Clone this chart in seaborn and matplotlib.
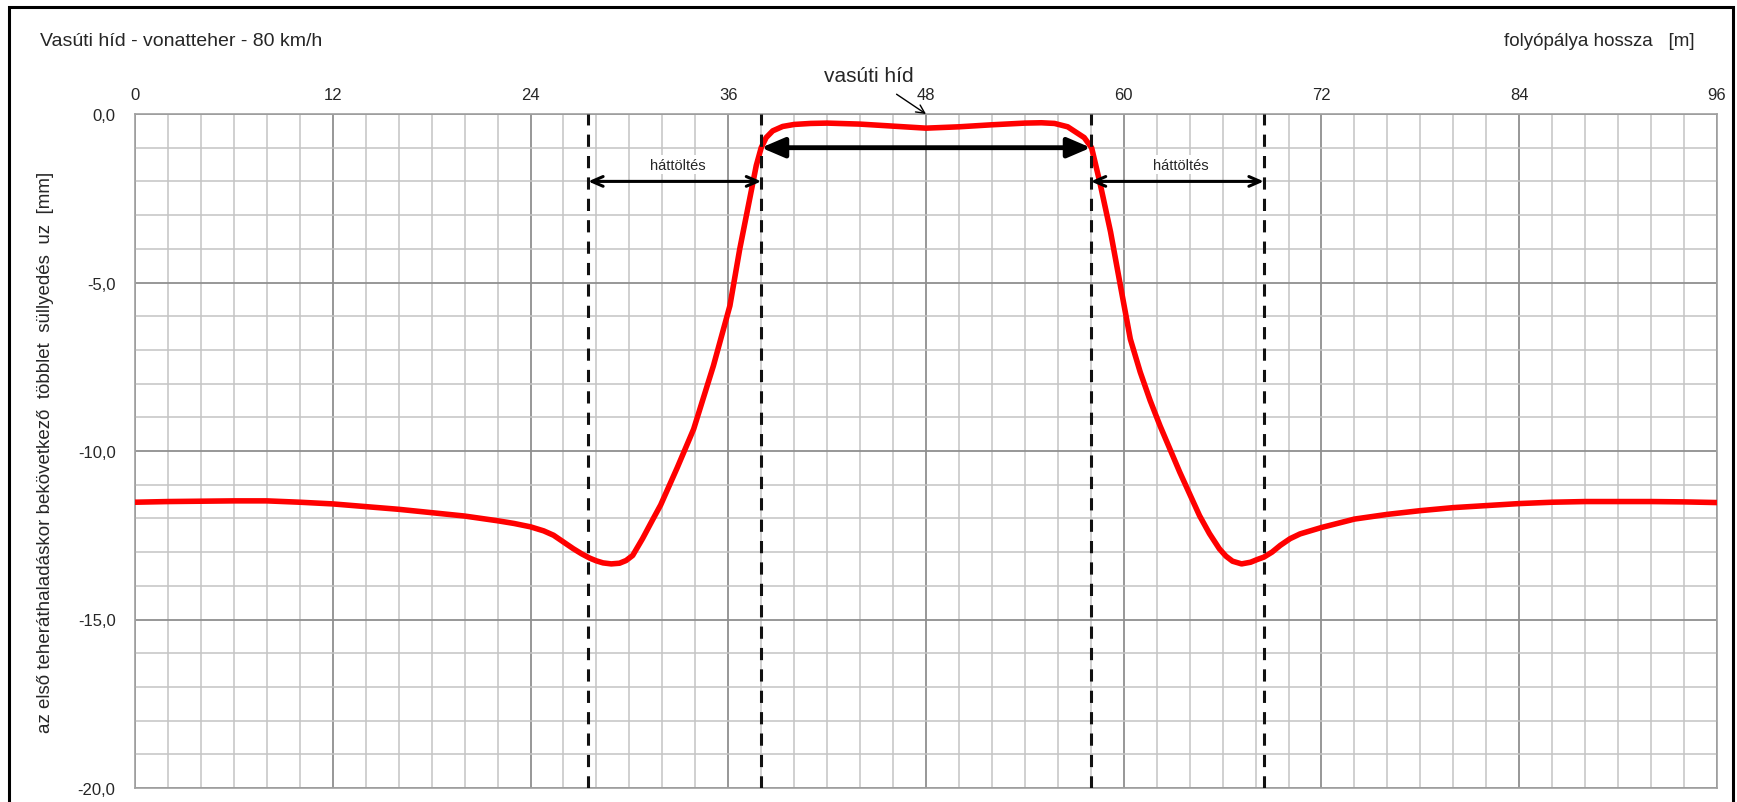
import numpy as np
import pandas as pd
import matplotlib
matplotlib.use("Agg")
import matplotlib.pyplot as plt
from matplotlib.ticker import MultipleLocator, FuncFormatter
from matplotlib.patches import Rectangle
import seaborn as sns

# distance along track [m] and extra settlement [mm]
dist = [0, 2, 4, 6, 8, 10, 12, 14, 16, 18, 20, 22, 23, 24, 24.8, 25.4, 26.0, 26.6, 27.1,
        27.6, 28.0, 28.4, 28.9, 29.4, 29.8, 30.2, 30.8, 31.4, 31.9, 32.9, 33.9, 35.1,
        36.1, 36.7, 37.3, 37.7, 38.0, 38.3, 38.7, 39.3, 40.0, 41, 42, 44, 46, 48, 50,
        52, 54, 55, 55.8, 56.6, 57.1, 57.6, 58.05, 58.55, 59.2, 59.8, 60.4, 61.0, 61.6,
        62.2, 63.4, 64.6, 65.2, 65.8, 66.2, 66.6, 67.15, 67.7, 68.1, 68.5, 69.0, 69.5,
        70.1, 70.7, 72, 74, 76, 78, 80, 82, 84, 86, 88, 90, 92, 94, 96]
uz = [-11.52, -11.50, -11.49, -11.48, -11.48, -11.52, -11.57, -11.65, -11.73, -11.83,
      -11.93, -12.07, -12.15, -12.25, -12.37, -12.5, -12.7, -12.9, -13.05, -13.18, -13.26,
      -13.32, -13.35, -13.33, -13.25, -13.1, -12.6, -12.05, -11.6, -10.5, -9.35, -7.47,
      -5.69, -4.0, -2.52, -1.53, -1.0, -0.7, -0.5, -0.37, -0.31, -0.28, -0.27, -0.3,
      -0.36, -0.42, -0.38, -0.32, -0.27, -0.26, -0.28, -0.38, -0.54, -0.7, -1.0, -2.03,
      -3.5, -5.1, -6.68, -7.66, -8.5, -9.25, -10.63, -11.92, -12.45, -12.9, -13.12,
      -13.27, -13.35, -13.3, -13.22, -13.15, -13.0, -12.8, -12.6, -12.46, -12.27, -12.02,
      -11.88, -11.77, -11.68, -11.62, -11.56, -11.52, -11.5, -11.5, -11.5, -11.51, -11.53]

# section borders: backfill start, bridge start, bridge end, backfill end
borders = [27.5, 38.0, 58.0, 68.5]
bridge_y = -1.0
backfill_y = -2.0

title = "Vasúti híd - vonatteher - 80 km/h"
xlabel = "folyópálya hossza   [m]"
ylabel = "az első teheráthaladáskor bekövetkező  többlet  süllyedés  uz  [mm]"

df = pd.DataFrame({"x": dist, "uz": uz})

sns.set_style("white")
plt.rcParams['font.family'] = ['Liberation Sans', 'DejaVu Sans']

fig = plt.figure(figsize=(17.37, 8.03), dpi=100)
ax = fig.add_axes([135 / 1737, 1 - 789 / 803, (1717 - 135) / 1737, (789 - 115) / 803])

# grid
ax.set_xlim(0, 96)
ax.set_ylim(-20, 0)
ax.xaxis.set_major_locator(MultipleLocator(12))
ax.xaxis.set_minor_locator(MultipleLocator(2))
ax.yaxis.set_major_locator(MultipleLocator(5))
ax.yaxis.set_minor_locator(MultipleLocator(1))
ax.grid(which="major", color="#8f8f8f", lw=1.3)
ax.grid(which="minor", color="#c4c4c4", lw=1.1)
ax.set_axisbelow(True)
for s in ax.spines.values():
    s.set_color("#a0a0a0")
    s.set_linewidth(1.2)

ax.xaxis.tick_top()
ax.tick_params(axis="x", which="both", length=0, labelsize=12, pad=9)
ax.tick_params(axis="y", which="both", length=0, labelsize=12, pad=14)
ax.yaxis.set_major_formatter(FuncFormatter(lambda v, p: f"{v:.1f}".replace(".", ",")))

sns.lineplot(data=df, x="x", y="uz", color="red", lw=4, ax=ax, zorder=4,
             solid_joinstyle="round", solid_capstyle="round")
ax.set_xlabel("")
ax.set_ylabel(ylabel, fontsize=13.5, labelpad=17)

for b in borders:
    ax.axvline(b, color="#111111", lw=2.2, ls=(0, (4, 3)), zorder=5)

# bridge arrow
ax.annotate("", xy=(borders[1], bridge_y), xytext=(borders[2], bridge_y),
            arrowprops=dict(arrowstyle="<|-|>,head_length=1.4,head_width=0.6", lw=3.5,
                            color="black", shrinkA=0, shrinkB=0), zorder=6)
# backfill arrows
for a, b in [(borders[0], borders[1]), (borders[2], borders[3])]:
    ax.annotate("", xy=(a, backfill_y), xytext=(b, backfill_y),
                arrowprops=dict(arrowstyle="<->,head_length=0.8,head_width=0.35", lw=2.2,
                                color="black", shrinkA=0, shrinkB=0), zorder=6)
    ax.text((a + b) / 2 + 0.2, -1.5, "háttöltés", ha="center", va="center", fontsize=10.5,
            bbox=dict(facecolor="white", edgecolor="none", pad=2), zorder=6)

ax.annotate("vasúti híd", xy=(48, 0), xytext=(44.5, 1.15), fontsize=15, ha="center",
            va="center", annotation_clip=False,
            arrowprops=dict(arrowstyle="->", lw=1, color="black", shrinkA=8, shrinkB=0))

fig.text(40 / 1737, 1 - 42 / 803, title, fontsize=14, ha="left", va="center")
fig.text(1695 / 1737, 1 - 42 / 803, xlabel, fontsize=13.5, ha="right", va="center")

fig.patches.append(Rectangle((9 / 1737, -0.01), (1733 - 9) / 1737, 1 - 8 / 803 + 0.01,
                             transform=fig.transFigure, fill=False, edgecolor="black",
                             lw=2.2))

fig.savefig("out.png", dpi=100)
